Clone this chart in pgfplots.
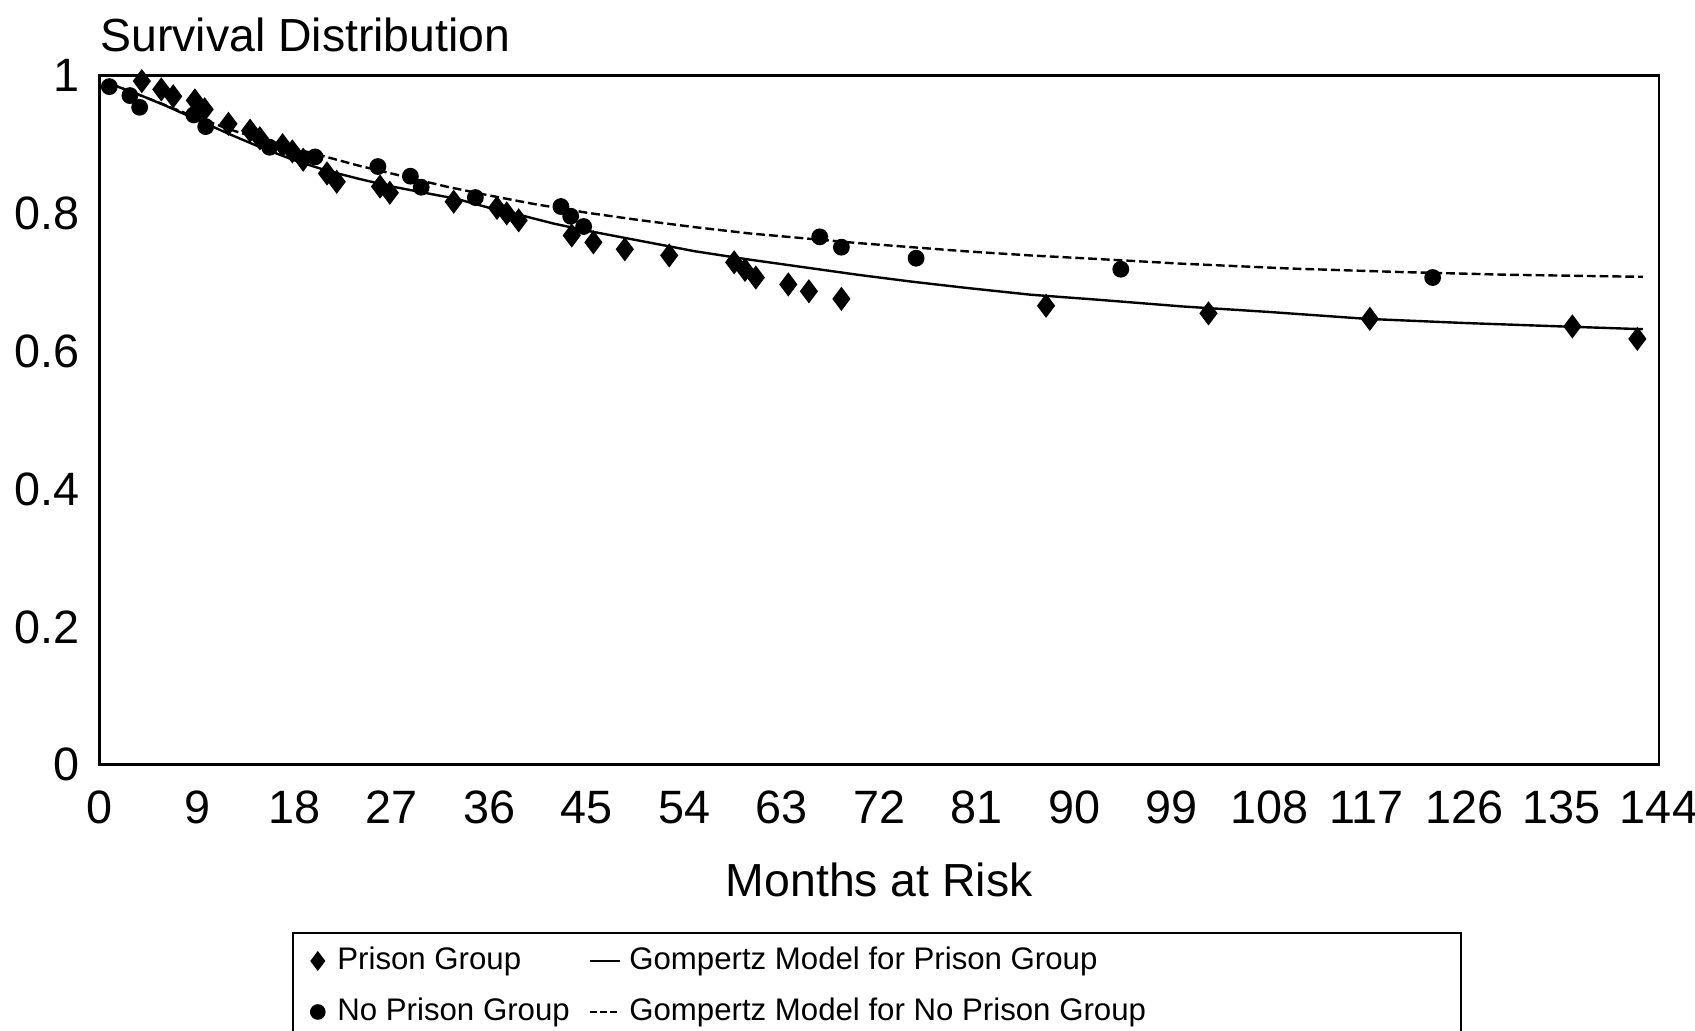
\documentclass[border=0pt]{standalone}
\usepackage{fontspec}
\setmainfont{Liberation Sans}
\usepackage{pgfplots}
\pgfplotsset{compat=1.18}
\begin{document}
\begin{tikzpicture}
\begin{axis}[name=ax, scale only axis, width=389.9pt, height=172.3pt,
  xmin=0, xmax=144, ymin=0, ymax=1,
  xtick={0,9,18,27,36,45,54,63,72,81,90,99,108,117,126,135,144},
  ytick={0,0.2,0.4,0.6,0.8,1},
  major tick length=0pt,
  axis line style={line width=0.7pt},
  clip=false,
  tick label style={font=\fontsize{11.7}{14}\selectfont},
  /pgf/number format/assume math mode=true,
  xticklabel style={yshift=-3pt},
  yticklabel style={xshift=-1.5pt},
  xlabel={Months at Risk},
  xlabel style={at={(axis description cs:0.5,-0.122)}, anchor=north, font=\fontsize{11.6}{14}\selectfont},
  title={Survival Distribution},
  title style={at={(axis description cs:0,1)}, anchor=base west, inner sep=0pt, font=\fontsize{11.6}{14}\selectfont},
  legend columns=2,
  legend cell align=left,
  legend style={at={(axis description cs:0.1234,-0.2423)}, anchor=north west,
    font=\fontsize{7.8}{9.4}\selectfont, draw=black, line width=0.5pt,
    inner xsep=4.5pt, inner ysep=1.5pt, row sep=1.6pt,
    /tikz/every even column/.append style={column sep=2.8pt}},
]
% Prison group (diamonds)
\addplot[only marks, mark=diamond*, mark size=2.7pt, black, fill=black,
  legend image code/.code={\draw[black, fill=black] plot[mark=diamond*, mark size=2.1pt, only marks] coordinates {(0pt,0pt)};}]
coordinates {
(3.9,0.992) (5.7,0.980) (6.8,0.970) (8.8,0.964) (9.7,0.951) (11.9,0.930)
(13.9,0.920) (14.8,0.909) (16.9,0.899) (17.8,0.890) (18.8,0.878) (21.0,0.858)
(21.9,0.846) (25.9,0.839) (26.8,0.830) (32.7,0.817) (36.7,0.808) (37.6,0.800)
(38.7,0.790) (43.6,0.768) (45.6,0.758) (48.5,0.748) (52.6,0.739) (58.6,0.729)
(59.6,0.718) (60.6,0.707) (63.6,0.697) (65.5,0.687) (68.5,0.676) (87.4,0.666)
(102.4,0.655) (117.3,0.647) (136.0,0.636) (142.0,0.618)
};
\addlegendentry{\hspace*{1.2pt}Prison Group}
% Gompertz prison
\addplot[black, line width=0.6pt,
  legend image code/.code={\draw[black, line width=0.6pt] (0pt,0pt) -- (7.5pt,0pt);}]
coordinates {
(1,0.988) (2,0.982) (4,0.970) (6,0.957) (8,0.943) (10,0.929) (12,0.915)
(15,0.895) (18,0.877) (21,0.862) (24,0.850) (27,0.839) (30,0.830) (33,0.821)
(36,0.808) (39,0.797) (42,0.785) (45,0.775) (50,0.760) (55,0.745) (60,0.733)
(65,0.722) (70,0.711) (75,0.701) (80,0.692) (86,0.682) (92,0.675) (100,0.665)
(108,0.657) (117,0.647) (126,0.641) (135,0.636) (142.5,0.632)
};
\addlegendentry{\makebox[201.5pt][l]{Gompertz Model for Prison Group}}
% No prison group (circles)
\addplot[only marks, mark=*, mark size=1.9pt, black, fill=black,
  legend image code/.code={\draw[black, fill=black] plot[mark=*, mark size=1.7pt, only marks] coordinates {(0pt,0pt)};}]
coordinates {
(0.9,0.984) (2.8,0.971) (3.7,0.954) (8.7,0.943) (9.8,0.926) (15.7,0.896)
(19.9,0.882) (25.7,0.868) (28.7,0.854) (29.7,0.838) (34.7,0.823) (42.6,0.810)
(43.5,0.796) (44.7,0.781) (66.5,0.766) (68.5,0.751) (75.4,0.735) (94.3,0.719)
(123.1,0.707)
};
\addlegendentry{\hspace*{1.2pt}No Prison Group}
% Gompertz no prison
\addplot[black, line width=0.6pt, dash pattern=on 2.2pt off 1pt,
  legend image code/.code={\draw[black, line width=0.6pt, dash pattern=on 1.6pt off 0.9pt] (0pt,0pt) -- (7.5pt,0pt);}]
coordinates {
(1,0.988) (4,0.970) (8,0.945) (12,0.922) (16,0.902) (20,0.886) (24,0.869)
(28,0.854) (32,0.839) (36,0.826) (40,0.814) (45,0.801) (50,0.790) (55,0.780)
(60,0.771) (65,0.764) (70,0.757) (75,0.751) (80,0.745) (86,0.739) (92,0.734)
(100,0.727) (110,0.720) (120,0.715) (130,0.711) (142.5,0.708)
};
\addlegendentry{Gompertz Model for No Prison Group}
\end{axis}
\pgfresetboundingbox
\path[use as bounding box] ([xshift=-24.9pt, yshift=-66.5pt]ax.south west) rectangle ([xshift=9pt, yshift=18.9pt]ax.north east);
\end{tikzpicture}
\end{document}
